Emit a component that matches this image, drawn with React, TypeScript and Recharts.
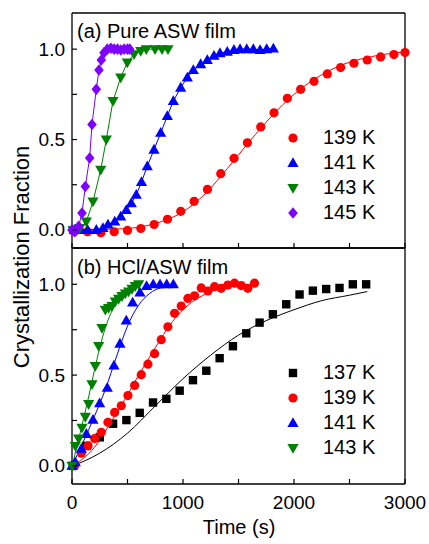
import { ComposedChart, Scatter, Line, XAxis, YAxis, Legend } from "recharts";

const FONT = '"Liberation Sans", Arial, sans-serif';

// shared axes
const X_TICKS = [0, 500, 1000, 1500, 2000, 2500, 3000];
const X_LABELS = [0, 1000, 2000, 3000];
const Y_TICKS = [0, 0.25, 0.5, 0.75, 1.0];
const Y_LABELS = [0, 0.5, 1.0];

// (a) Pure ASW film
const A139_T = [20, 140, 260, 380, 500, 620, 740, 860, 980, 1100, 1220, 1340, 1460, 1580, 1700, 1820, 1940, 2060, 2180, 2300, 2420, 2540, 2660, 2780, 2900, 3000];
const A139_F = [-0.01, -0.01, -0.015, -0.01, -0.003, 0.008, 0.03, 0.059, 0.103, 0.158, 0.224, 0.311, 0.396, 0.482, 0.57, 0.648, 0.728, 0.778, 0.822, 0.863, 0.898, 0.922, 0.94, 0.957, 0.97, 0.981];
const A139_FIT_T = [0, 400, 600, 800, 1000, 1200, 1400, 1600, 1800, 2000, 2200, 2400, 2600, 2800, 3000];
const A139_FIT_F = [0, 0.005, 0.015, 0.045, 0.1, 0.2, 0.34, 0.49, 0.63, 0.75, 0.84, 0.905, 0.945, 0.97, 0.985];

const A141_T = [20, 80, 140, 219, 279, 324, 385, 439, 489, 534, 579, 626, 678, 739, 799, 859, 913, 979, 1039, 1093, 1159, 1219, 1279, 1333, 1399, 1459, 1514, 1574, 1634, 1694, 1754, 1814];
const A141_F = [0, 0, 0, 0, 0.01, 0.03, 0.046, 0.074, 0.11, 0.148, 0.194, 0.265, 0.352, 0.444, 0.537, 0.63, 0.713, 0.787, 0.843, 0.885, 0.917, 0.94, 0.963, 0.978, 0.985, 0.996, 1.0, 1.0, 1.0, 0.995, 1.0, 1.003];

const A143_T = [10, 70, 129, 189, 259, 309, 369, 439, 498, 559, 619, 669, 748, 811, 865];
const A143_F = [0, 0.01, 0.046, 0.157, 0.333, 0.5, 0.713, 0.843, 0.926, 0.972, 0.99, 1.0, 1.0, 1.0, 1.0];

const A145_T = [0, 24, 60, 90, 120, 159, 180, 219, 243, 264, 288, 318, 350, 380, 410, 440, 470, 500, 520];
const A145_F = [0, -0.01, 0.02, 0.093, 0.24, 0.398, 0.583, 0.778, 0.885, 0.94, 0.98, 1.0, 1.005, 1.0, 1.0, 0.995, 1.0, 1.0, 1.0];

// (b) HCl/ASW film
const B137_T = [10, 130, 250, 370, 490, 610, 730, 850, 970, 1090, 1210, 1330, 1450, 1570, 1690, 1810, 1930, 2050, 2170, 2290, 2410, 2530, 2650];
const B137_F = [0, 0.11, 0.157, 0.232, 0.252, 0.292, 0.349, 0.369, 0.414, 0.472, 0.524, 0.593, 0.659, 0.73, 0.789, 0.835, 0.89, 0.944, 0.965, 0.974, 0.98, 1.0, 1.0];
const B137_FIT_T = [0, 125, 250, 500, 750, 1000, 1250, 1500, 1750, 2000, 2250, 2500, 2660];
const B137_FIT_F = [0, 0.03, 0.07, 0.18, 0.33, 0.48, 0.61, 0.72, 0.8, 0.86, 0.91, 0.94, 0.96];

const B139_T = [24, 84, 144, 204, 264, 324, 384, 444, 504, 564, 624, 684, 744, 804, 864, 924, 984, 1044, 1104, 1164, 1224, 1284, 1344, 1404, 1464, 1524, 1584, 1644];
const B139_F = [0, 0.07, 0.11, 0.15, 0.185, 0.24, 0.294, 0.331, 0.387, 0.443, 0.502, 0.56, 0.618, 0.695, 0.766, 0.84, 0.88, 0.922, 0.937, 0.98, 0.963, 0.987, 0.978, 0.996, 1.006, 0.993, 0.978, 1.006];
const B139_FIT_T = [0, 100, 200, 300, 400, 500, 600, 700, 800, 900, 1000, 1100, 1200, 1300, 1400, 1500, 1650];
const B139_FIT_F = [0, 0.04, 0.1, 0.19, 0.29, 0.39, 0.5, 0.6, 0.7, 0.79, 0.86, 0.91, 0.945, 0.97, 0.985, 0.993, 0.998];

const B141_T = [0, 30, 84, 129, 189, 249, 318, 378, 432, 489, 546, 612, 672, 732, 793, 853, 913];
const B141_F = [0, 0.02, 0.094, 0.176, 0.254, 0.345, 0.43, 0.553, 0.673, 0.8, 0.9, 0.955, 0.99, 1.0, 1.0, 1.0, 1.0];
const B141_FIT_T = [0, 100, 200, 300, 400, 500, 600, 700, 800, 930];
const B141_FIT_F = [0, 0.13, 0.27, 0.42, 0.6, 0.77, 0.885, 0.95, 0.98, 0.99];

const B143_T = [0, 30, 60, 90, 120, 150, 180, 210, 240, 270, 300, 330, 360, 390, 420, 450, 480, 510, 540, 570, 600];
const B143_F = [0, 0.11, 0.15, 0.21, 0.27, 0.34, 0.45, 0.55, 0.66, 0.76, 0.86, 0.87, 0.88, 0.905, 0.92, 0.935, 0.95, 0.96, 0.975, 0.99, 1.0];
const B143_FIT_T = [0, 50, 100, 150, 200, 250, 300, 350, 400, 450, 500, 550, 600];
const B143_FIT_F = [0, 0.12, 0.25, 0.38, 0.52, 0.65, 0.76, 0.84, 0.9, 0.94, 0.97, 0.985, 1.0];

const COLORS: Record<string, string> = {
  "137 K": "#000000",
  "139 K": "#ff0000",
  "141 K": "#0000ff",
  "143 K": "#008000",
  "145 K": "#8000ff",
};
const SHAPES: Record<string, string> = {
  "137 K": "square",
  "139 K": "circle",
  "141 K": "up",
  "143 K": "down",
  "145 K": "diamond",
};

const zip = (t: number[], f: number[]) => t.map((v, i) => ({ t: v, f: f[i] }));

const Marker = ({ kind, cx, cy, color }: any) => {
  if (cx == null || cy == null) return null;
  switch (kind) {
    case "circle":
      return <circle cx={cx} cy={cy} r={4.6} fill={color} />;
    case "square":
      return <rect x={cx - 4.2} y={cy - 4.2} width={8.4} height={8.4} fill={color} />;
    case "up":
      return <polygon points={`${cx},${cy - 5.8} ${cx + 5.6},${cy + 4} ${cx - 5.6},${cy + 4}`} fill={color} />;
    case "down":
      return <polygon points={`${cx - 5.6},${cy - 4} ${cx + 5.6},${cy - 4} ${cx},${cy + 5.8}`} fill={color} />;
    case "diamond":
      return <polygon points={`${cx},${cy - 5.8} ${cx + 4.8},${cy} ${cx},${cy + 5.8} ${cx - 4.8},${cy}`} fill={color} />;
  }
  return null;
};

const shapeFor = (name: string) => (p: any) =>
  <Marker kind={SHAPES[name]} cx={p.cx} cy={p.cy} color={COLORS[name]} />;

const renderLegend = (props: any) => {
  const items = (props.payload || [])
    .filter((p: any) => p.type !== "none" && SHAPES[p.value])
    .sort((a: any, b: any) => parseFloat(a.value) - parseFloat(b.value));
  return (
    <div style={{ fontFamily: FONT, fontSize: 20, color: "#000" }}>
      {items.map((it: any) => (
        <div key={it.value} style={{ display: "flex", alignItems: "center", height: 25 }}>
          <svg width={20} height={20}>
            <Marker kind={SHAPES[it.value]} cx={10} cy={10} color={COLORS[it.value]} />
          </svg>
          <span style={{ marginLeft: 20, whiteSpace: "nowrap" }}>{it.value}</span>
        </div>
      ))}
    </div>
  );
};

// tick renderers (ticks point into the plot)
const LeftTick = ({ x, y, payload }: any) => (
  <g>
    <line x1={x} x2={x + 5} y1={y} y2={y} stroke="#000" strokeWidth={1.2} />
    {Y_LABELS.includes(payload.value) && (
      <text x={x - 7} y={y} textAnchor="end" dominantBaseline="central" fontSize={19} fontFamily={FONT} fill="#000">
        {payload.value.toFixed(1)}
      </text>
    )}
  </g>
);
const RightTick = ({ x, y }: any) => (
  <line x1={x} x2={x - 5} y1={y} y2={y} stroke="#000" strokeWidth={1.2} />
);
const TopTick = ({ x, y }: any) => (
  <line x1={x} x2={x} y1={y} y2={y + 5} stroke="#000" strokeWidth={1.2} />
);
const BottomTick = (showLabel: boolean) => ({ x, y, payload }: any) => (
  <g>
    <line x1={x} x2={x} y1={y} y2={y - 5} stroke="#000" strokeWidth={1.2} />
    {showLabel && X_LABELS.includes(payload.value) && (
      <text x={x} y={y + 18} textAnchor="middle" dominantBaseline="central" fontSize={19} fontFamily={FONT} fill="#000">
        {payload.value}
      </text>
    )}
  </g>
);

const axisLine = { stroke: "#000", strokeWidth: 1.3 };

const Axes = ({ labels }: { labels: boolean }) => (
  <>
    <XAxis dataKey="t" type="number" domain={[0, 3000]} ticks={X_TICKS} height={1} tickSize={0} tickMargin={0}
      axisLine={axisLine} tickLine={false} tick={BottomTick(labels)} interval={0} />
    <XAxis xAxisId="top" orientation="top" type="number" domain={[0, 3000]} ticks={X_TICKS} height={1} tickSize={0}
      tickMargin={0} axisLine={axisLine} tickLine={false} tick={TopTick} interval={0} />
    <YAxis dataKey="f" type="number" domain={[-0.1, 1.2]} ticks={Y_TICKS} width={60} tickSize={0} tickMargin={0}
      axisLine={axisLine} tickLine={false} tick={LeftTick} interval={0} />
    <YAxis yAxisId="r" orientation="right" type="number" domain={[-0.1, 1.2]} ticks={Y_TICKS} width={1} tickSize={0}
      tickMargin={0} axisLine={axisLine} tickLine={false} tick={RightTick} interval={0} />
  </>
);

const fitLine = (name: string, t: number[], f: number[]) => (
  <Line key={name + "fit"} data={zip(t, f)} dataKey="f" type="monotone" stroke={COLORS[name]} strokeWidth={1}
    dot={false} activeDot={false} legendType="none" isAnimationActive={false} />
);

const points = (name: string, t: number[], f: number[], joined = false) => (
  <Scatter key={name} name={name} data={zip(t, f)} fill={COLORS[name]} shape={shapeFor(name)}
    line={joined ? { stroke: COLORS[name], strokeWidth: 1 } : false} lineType="joint" isAnimationActive={false} />
);

const textStyle: any = { position: "absolute", fontFamily: FONT, fontSize: 20, color: "#000", whiteSpace: "nowrap" };

export default function App() {
  return (
    <div style={{ position: "absolute", left: 0, top: 0, width: 429, height: 544, background: "#fff" }}>
      <div style={{ position: "absolute", left: 0, top: 0 }}>
        <ComposedChart width={429} height={249} margin={{ top: 12, right: 23, bottom: 0, left: 12 }}>
          {Axes({ labels: false })}
          {fitLine("139 K", A139_FIT_T, A139_FIT_F)}
          {points("139 K", A139_T, A139_F)}
          {points("141 K", A141_T, A141_F, true)}
          {points("143 K", A143_T, A143_F, true)}
          {points("145 K", A145_T, A145_F, true)}
          <Legend layout="vertical" align="center" verticalAlign="middle" content={renderLegend}
            wrapperStyle={{ left: 283, top: 125, width: "auto" }} />
        </ComposedChart>
      </div>
      <div style={{ position: "absolute", left: 0, top: 247 }}>
        <ComposedChart width={429} height={297} margin={{ top: 0, right: 23, bottom: 59, left: 12 }}>
          {Axes({ labels: true })}
          {fitLine("137 K", B137_FIT_T, B137_FIT_F)}
          {fitLine("139 K", B139_FIT_T, B139_FIT_F)}
          {fitLine("141 K", B141_FIT_T, B141_FIT_F)}
          {fitLine("143 K", B143_FIT_T, B143_FIT_F)}
          {points("137 K", B137_T, B137_F)}
          {points("139 K", B139_T, B139_F)}
          {points("141 K", B141_T, B141_F)}
          {points("143 K", B143_T, B143_F)}
          <Legend layout="vertical" align="center" verticalAlign="middle" content={renderLegend}
            wrapperStyle={{ left: 283, top: 113, width: "auto" }} />
        </ComposedChart>
      </div>
      <div style={{ ...textStyle, left: 77, top: 20 }}>(a) Pure ASW film</div>
      <div style={{ ...textStyle, left: 77, top: 256 }}>(b) HCl/ASW film</div>
      <div style={{ ...textStyle, left: 239, top: 527, transform: "translate(-50%, -50%)" }}>Time (s)</div>
      <div style={{ ...textStyle, fontSize: 22, left: 22, top: 257, transform: "translate(-50%, -50%) rotate(-90deg)" }}>
        Crystallization Fraction
      </div>
    </div>
  );
}
